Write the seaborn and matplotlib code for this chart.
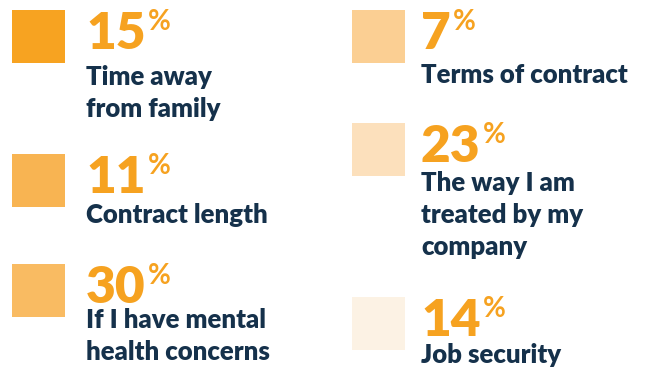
import matplotlib
matplotlib.use("Agg")
import matplotlib.pyplot as plt
import seaborn as sns
import pandas as pd

# Share of respondents citing each factor
causes = [
    "Time away\nfrom family",
    "Contract length",
    "If I have mental\nhealth concerns",
    "Terms of contract",
    "The way I am\ntreated by my\ncompany",
    "Job security",
]
percentages = [15, 11, 30, 7, 23, 14]
swatch_colors = ["#F7A321", "#F8B452", "#F9BB62", "#FBCF93", "#FCE0BC", "#FCF2E4"]

# Layout: column and top edge (pixels) of each block
columns = [0, 0, 0, 1, 1, 1]
block_tops = [10, 154, 264, 10, 123, 297]
label_baselines = [85, 223, 328, 83, 191, 363]

W, H = 646, 371
COL_X = [12, 352]
TEXT_X = [86, 421]
SQ = 53
LINE_STEP = 32

NAVY = "#15314B"
ORANGE = "#F6A220"

sns.set_theme(style="white")
plt.rcParams["font.family"] = ["Lato", "DejaVu Sans"]

fig = plt.figure(figsize=(W / 100, H / 100), dpi=100)
ax = fig.add_axes([0, 0, 1, 1])
ax.set_xlim(0, W)
ax.set_ylim(H, 0)
ax.axis("off")

df = pd.DataFrame({
    "cause": causes,
    "pct": percentages,
    "sx": [COL_X[c] + SQ / 2 for c in columns],
    "sy": [t + SQ / 2 for t in block_tops],
})

side_pt = SQ * 72 / 100
sns.scatterplot(
    data=df, x="sx", y="sy", hue="cause", palette=swatch_colors,
    marker="s", s=side_pt ** 2, linewidth=0, legend=False, ax=ax,
)

fig.canvas.draw()
renderer = fig.canvas.get_renderer()
for i, row in df.iterrows():
    x0 = TEXT_X[columns[i]]
    top = block_tops[i]
    num = ax.text(x0, top + 39, f"{row['pct']}", fontsize=37, fontweight="heavy",
                  color=ORANGE, va="baseline", ha="left")
    bb = num.get_window_extent(renderer=renderer)
    x_end = ax.transData.inverted().transform((bb.x1, 0))[0]
    ax.text(x_end + 2, top + 20, "%", fontsize=20, fontweight="bold",
            color=ORANGE, va="baseline", ha="left")
    for k, line in enumerate(row["cause"].split("\n")):
        ax.text(x0, label_baselines[i] + k * LINE_STEP, line, fontsize=18.5,
                fontweight="heavy", color=NAVY, va="baseline", ha="left")

fig.savefig("out.png", dpi=100)
